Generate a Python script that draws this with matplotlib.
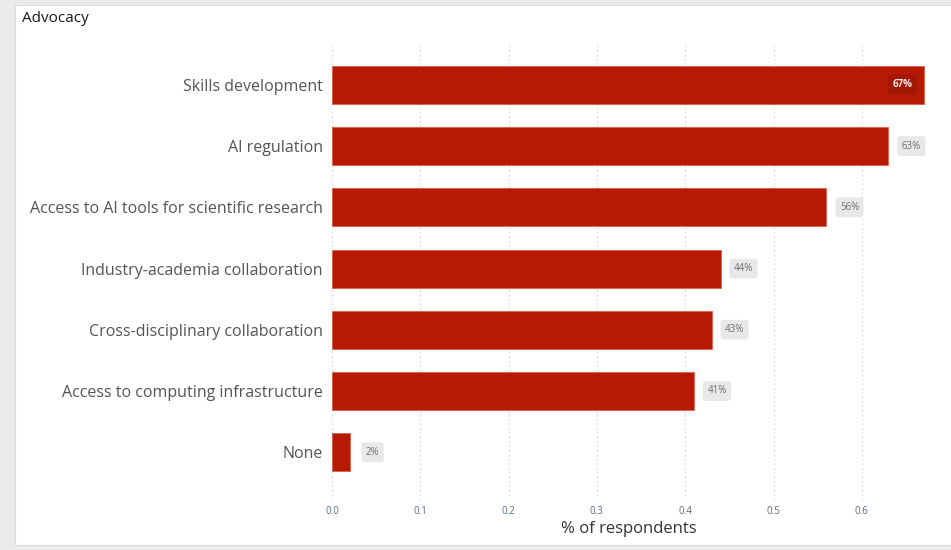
import matplotlib
matplotlib.use("Agg")
import matplotlib.pyplot as plt
from matplotlib.patches import Rectangle

plt.rcParams["font.family"] = ["Open Sans", "DejaVu Sans"]

categories = [
    "Skills development",
    "AI regulation",
    "Access to AI tools for scientific research",
    "Industry-academia collaboration",
    "Cross-disciplinary collaboration",
    "Access to computing infrastructure",
    "None",
]
shares = [0.67, 0.63, 0.56, 0.44, 0.43, 0.41, 0.02]
ticks = [0.0, 0.1, 0.2, 0.3, 0.4, 0.5, 0.6]

BAR = "#b71a03"
W, H = 951, 550

fig = plt.figure(figsize=(W / 100, H / 100), dpi=100, facecolor="#ebebeb")
# white card behind the chart
fig.patches.append(Rectangle((15 / W, 1 - 545 / H), 1, 540 / H,
                             transform=fig.transFigure, facecolor="white",
                             edgecolor="#dcdcdc", lw=0.8, zorder=-5))
fig.text(22 / W, 1 - 18 / H, "Advocacy", fontsize=11, color="#1a1a1a",
         va="center", ha="left")

# axes placed so that 0.1 on the x axis is ~88 px
ax = fig.add_axes([332 / W, 1 - 500 / H, 593.4 / W, 455 / H])
ax.set_facecolor("none")
ax.set_xlim(0, 0.672)
ax.set_ylim(6.78, -0.65)

ypos = list(range(len(categories)))
ax.barh(ypos, shares, height=0.62, color=BAR, edgecolor="#d9583f", lw=0.5,
        zorder=2)

for y, v in zip(ypos, shares):
    txt = f"{v * 100:.0f}%"
    if v > 0.65:
        ax.text(v - 0.024, y, txt, ha="center", va="center", fontsize=7,
                color="#f4e6e4", fontweight="bold", zorder=3,
                bbox=dict(boxstyle="round,pad=0.45,rounding_size=0.3",
                          fc="#a31805", ec="none"))
    else:
        ax.text(v + 0.026, y, txt, ha="center", va="center", fontsize=7,
                color="#707070", zorder=3,
                bbox=dict(boxstyle="round,pad=0.45,rounding_size=0.3",
                          fc="#e8e8e8", ec="none"))

ax.set_yticks(ypos)
ax.set_yticklabels(categories, fontsize=11.5, color="#555555")
ax.set_xticks(ticks)
ax.set_xticklabels([f"{t:.1f}" for t in ticks], fontsize=7, color="#5c6b7c")
ax.tick_params(axis="both", length=0)
ax.tick_params(axis="y", pad=6.5)
ax.tick_params(axis="x", pad=4)
ax.grid(axis="x", color="#d8d8d8", ls=(0, (1.5, 2.5)), lw=0.8, zorder=0)
for s in ax.spines.values():
    s.set_visible(False)
ax.set_xlabel("% of respondents", fontsize=12, color="#333333", labelpad=3)

fig.savefig("out.png", dpi=100, facecolor=fig.get_facecolor())
